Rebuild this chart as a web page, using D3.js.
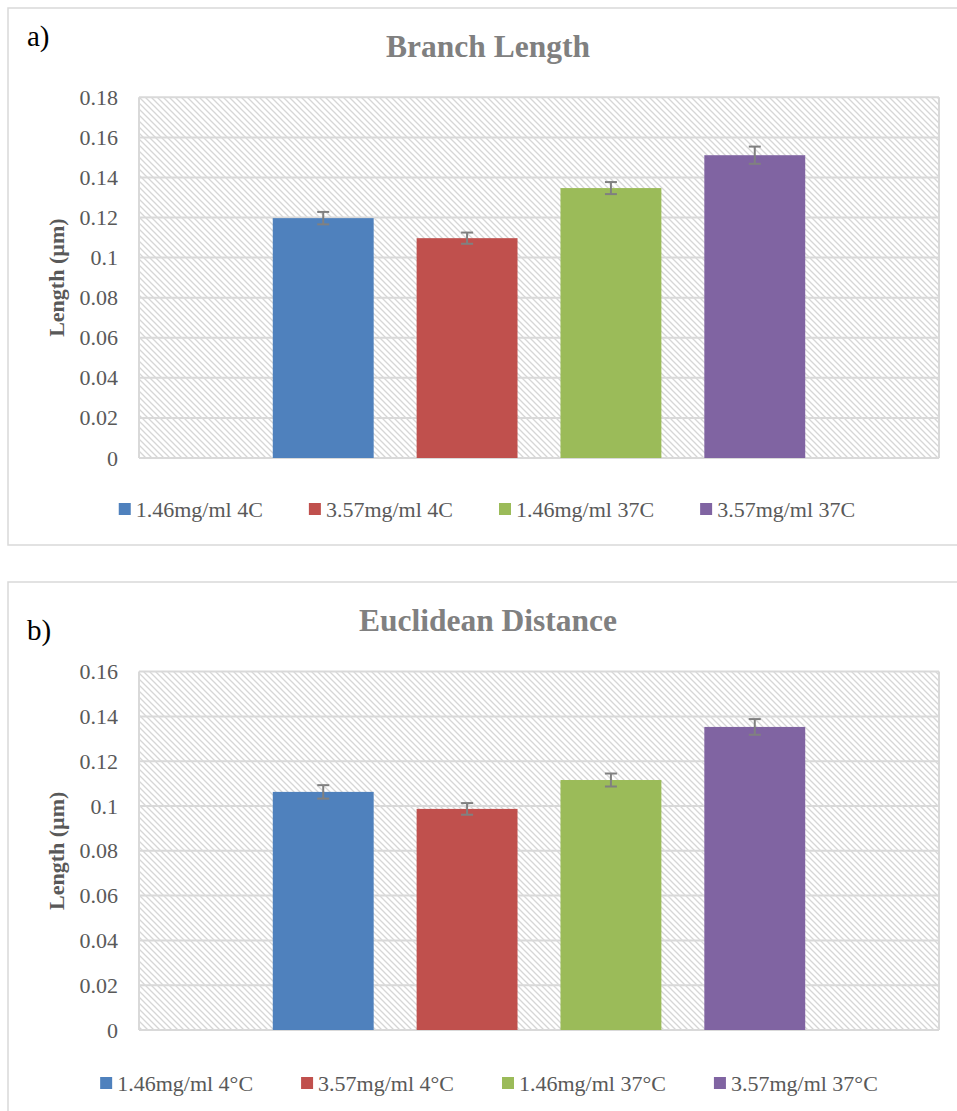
<!DOCTYPE html>
<html>
<head>
<meta charset="utf-8">
<script src="https://cdn.jsdelivr.net/npm/d3@7"></script>
<style>
  html, body { margin: 0; padding: 0; background: #fff; }
  svg { display: block; }
  svg text { font-family: "Liberation Serif", "DejaVu Serif", serif; }
</style>
</head>
<body>
<svg id="chart" width="957" height="1111"></svg>
<script>
// ---- data ----
const seriesA = ["1.46mg/ml 4C", "3.57mg/ml 4C", "1.46mg/ml 37C", "3.57mg/ml 37C"];
const seriesB = ["1.46mg/ml 4°C", "3.57mg/ml 4°C", "1.46mg/ml 37°C", "3.57mg/ml 37°C"];
const colors = ["#4F81BD", "#C0504D", "#9BBB59", "#8064A2"];
const branchLength = [0.1197, 0.1097, 0.1347, 0.1511];
const branchLengthErr = [0.0031, 0.0028, 0.0030, 0.0043];
const euclideanDistance = [0.1063, 0.0987, 0.1116, 0.1353];
const euclideanDistanceErr = [0.0030, 0.0026, 0.0029, 0.0035];
const ticksA = [0, 0.02, 0.04, 0.06, 0.08, 0.1, 0.12, 0.14, 0.16, 0.18];
const ticksB = [0, 0.02, 0.04, 0.06, 0.08, 0.1, 0.12, 0.14, 0.16];

const FONT = "'Liberation Serif', 'DejaVu Serif', serif";
const svg = d3.select("#chart");
const defs = svg.append("defs");
const pat = defs.append("pattern")
  .attr("id", "hatch").attr("width", 6).attr("height", 6)
  .attr("patternUnits", "userSpaceOnUse");
pat.append("rect").attr("width", 6).attr("height", 6).attr("fill", "#fff");
pat.append("path")
  .attr("d", "M0,0 L6,6 M-1,5 L1,7 M5,-1 L7,1")
  .attr("stroke", "#d6d6d6").attr("stroke-width", 1.3);

function drawChart(cfg) {
  const g = svg.append("g").attr("font-family", FONT);
  // outer box
  g.append("rect")
    .attr("x", cfg.box[0]).attr("y", cfg.box[1])
    .attr("width", cfg.box[2]).attr("height", cfg.box[3])
    .attr("fill", "#fff").attr("stroke", "#d9d9d9").attr("stroke-width", 1.5);

  // panel label
  g.append("text").attr("x", 27).attr("y", cfg.labelY)
    .attr("font-size", 29).attr("fill", "#000").style("font-family", FONT).text(cfg.label);

  // title
  g.append("text").attr("x", 488).attr("y", cfg.titleY)
    .attr("text-anchor", "middle").attr("font-size", 31.5).attr("font-weight", "bold")
    .attr("fill", "#808080").style("font-family", FONT).text(cfg.title);

  const x = d3.scaleBand().domain(cfg.series)
    .range([cfg.plot[0], cfg.plot[1]])
    .paddingInner(0.2986).paddingOuter(0.93);
  const y = d3.scaleLinear().domain([0, cfg.yMax]).range([cfg.plot[3], cfg.plot[2]]);

  // plot background hatch
  g.append("rect")
    .attr("x", cfg.plot[0]).attr("y", cfg.plot[2])
    .attr("width", cfg.plot[1] - cfg.plot[0]).attr("height", cfg.plot[3] - cfg.plot[2])
    .attr("fill", "url(#hatch)");

  // gridlines
  g.append("g").selectAll("line").data(cfg.ticks).join("line")
    .attr("x1", cfg.plot[0]).attr("x2", cfg.plot[1])
    .attr("y1", d => y(d)).attr("y2", d => y(d))
    .attr("stroke", "#d9d9d9").attr("stroke-width", 2);
  // plot area vertical borders
  g.append("g").selectAll("line").data([cfg.plot[0], cfg.plot[1]]).join("line")
    .attr("x1", d => d).attr("x2", d => d)
    .attr("y1", cfg.plot[2]).attr("y2", cfg.plot[3])
    .attr("stroke", "#d9d9d9").attr("stroke-width", 2);

  // y axis labels via d3 axis
  const yAxis = d3.axisLeft(y).tickValues(cfg.ticks).tickSize(0).tickPadding(0)
    .tickFormat(d => d3.format("")(+d.toFixed(2)));
  const ya = g.append("g").attr("transform", `translate(${cfg.plot[0] - 21},0)`).call(yAxis);
  ya.attr("font-family", FONT).attr("font-size", 22);
  ya.select(".domain").remove();
  ya.selectAll("text").attr("fill", "#595959").style("font-family", FONT).style("font-size", "22px");

  // y axis title
  g.append("text")
    .attr("transform", `translate(64,${(cfg.plot[2] + cfg.plot[3]) / 2}) rotate(-90)`)
    .attr("text-anchor", "middle").attr("font-size", 22).attr("font-weight", "bold")
    .attr("fill", "#595959").style("font-family", FONT).text("Length (µm)");

  // bars
  g.append("g").selectAll("rect").data(cfg.values).join("rect")
    .attr("x", (d, i) => x(cfg.series[i]))
    .attr("width", x.bandwidth())
    .attr("y", d => y(d))
    .attr("height", d => y(0) - y(d))
    .attr("fill", (d, i) => colors[i]);

  // error bars
  const eb = g.append("g").attr("stroke", "#808080").attr("stroke-width", 2);
  cfg.values.forEach((v, i) => {
    const cx = x(cfg.series[i]) + x.bandwidth() / 2;
    const e = cfg.errors[i];
    eb.append("line").attr("x1", cx).attr("x2", cx).attr("y1", y(v + e)).attr("y2", y(v - e));
    eb.append("line").attr("x1", cx - 6).attr("x2", cx + 6).attr("y1", y(v + e)).attr("y2", y(v + e));
    eb.append("line").attr("x1", cx - 6).attr("x2", cx + 6).attr("y1", y(v - e)).attr("y2", y(v - e));
  });

  // legend
  const lg = g.append("g");
  const items = cfg.series.map((s, i) => {
    const it = lg.append("g");
    it.append("rect").attr("x", 0).attr("y", -6).attr("width", 12).attr("height", 12)
      .attr("fill", colors[i]);
    const t = it.append("text").attr("x", 17).attr("y", 7.5).attr("font-size", 22)
      .attr("fill", "#595959").style("font-family", FONT).text(s);
    return { it, w: 17 + t.node().getComputedTextLength() };
  });
  const gap = cfg.legendGap;
  const total = d3.sum(items, d => d.w) + gap * (items.length - 1);
  let cx = cfg.legendCenter - total / 2;
  items.forEach(d => {
    d.it.attr("transform", `translate(${cx},${cfg.legendY})`);
    cx += d.w + gap;
  });
}

drawChart({
  box: [8, 8, 962, 537], label: "a)", labelY: 46,
  title: "Branch Length", titleY: 57,
  series: seriesA, values: branchLength, errors: branchLengthErr,
  plot: [139, 939, 97.3, 458], yMax: 0.18, ticks: ticksA,
  legendY: 509, legendGap: 46, legendCenter: 487
});
drawChart({
  box: [8, 582, 962, 540], label: "b)", labelY: 640,
  title: "Euclidean Distance", titleY: 631,
  series: seriesB, values: euclideanDistance, errors: euclideanDistanceErr,
  plot: [139, 939, 671.6, 1030], yMax: 0.16, ticks: ticksB,
  legendY: 1083, legendGap: 48, legendCenter: 489
});
</script>
</body>
</html>
